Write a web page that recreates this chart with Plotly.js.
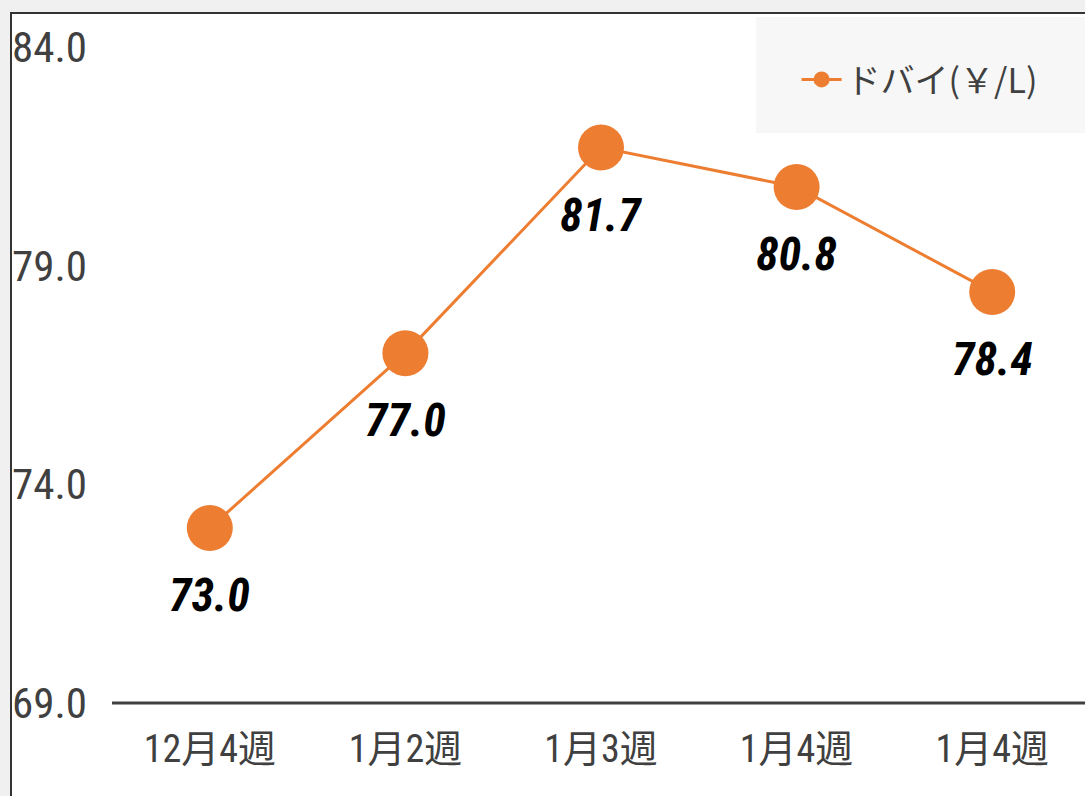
<!DOCTYPE html>
<html><head><meta charset="utf-8">
<script src="https://cdn.plot.ly/plotly-3.0.1.min.js"></script>
<style>
html,body{margin:0;padding:0;background:#f0f0f0;overflow:hidden;width:1085px;height:796px;}
#frame{position:absolute;left:10px;top:12px;width:1100px;height:800px;background:#fff;border-left:2px solid #333;border-top:2px solid #333;}
#chart{position:absolute;left:0;top:0;}
</style></head>
<body>
<div id="frame"><div id="chart"></div></div>
<script>
const categories = ["12月4週", "1月2週", "1月3週", "1月4週", "1月4週"];
const values = [73.0, 77.0, 81.7, 80.8, 78.4];
const seriesName = "ドバイ(￥/L)";
const yTicks = [69, 74, 79, 84];

const xIdx = categories.map((c, i) => i);
const numFont = "Roboto Condensed, Noto Sans CJK JP, sans-serif";

const trace = {
  x: xIdx, y: values, name: seriesName, type: "scatter", mode: "lines+markers",
  line: {color: "#ED7D31", width: 3},
  marker: {color: "#ED7D31", size: 46},
  cliponaxis: false
};

const annotations = values.map((v, i) => ({
  x: i, y: v, xref: "x", yref: "y", text: v.toFixed(1), showarrow: false,
  yshift: -67,
  font: {family: numFont, size: 46, color: "#000", weight: "bold", style: "italic"}
}));

const layout = {
  width: 1080, height: 782,
  margin: {l: 100, r: 2, t: 33, b: 93},
  paper_bgcolor: "rgba(0,0,0,0)", plot_bgcolor: "rgba(0,0,0,0)",
  showlegend: true,
  xaxis: {
    range: [-0.5, 4.5], tickvals: xIdx, ticktext: categories,
    showgrid: false, zeroline: false, showline: false, ticks: "",
    tickfont: {family: numFont, size: 38, color: "#404040"}, ticklabelstandoff: 20
  },
  yaxis: {
    range: [69, 84], tickvals: yTicks, ticktext: yTicks.map(v => v.toFixed(1)),
    showgrid: false, zeroline: false, showline: false, ticks: "",
    tickfont: {family: numFont, size: 43, color: "#404040"}, ticklabelstandoff: 24
  },
  shapes: [
    {type: "line", xref: "paper", yref: "paper", x0: 0, x1: 1.02, y0: 0, y1: 0,
     line: {color: "#404040", width: 3}, layer: "below"},
    {type: "rect", xref: "paper", yref: "paper", x0: 0.6585, x1: 1.05, y0: 0.869, y1: 1.0457,
     fillcolor: "#f7f7f7", line: {width: 0}, layer: "below"}
  ],
  legend: {
    x: 0.70, y: 0.95, xanchor: "left", yanchor: "middle",
    bgcolor: "rgba(0,0,0,0)", itemwidth: 40,
    font: {family: "Noto Sans CJK JP, sans-serif", size: 34, color: "#404040"}
  },
  annotations: annotations
};

Plotly.newPlot("chart", [trace], layout, {displayModeBar: false, staticPlot: true});
</script>
</body></html>
